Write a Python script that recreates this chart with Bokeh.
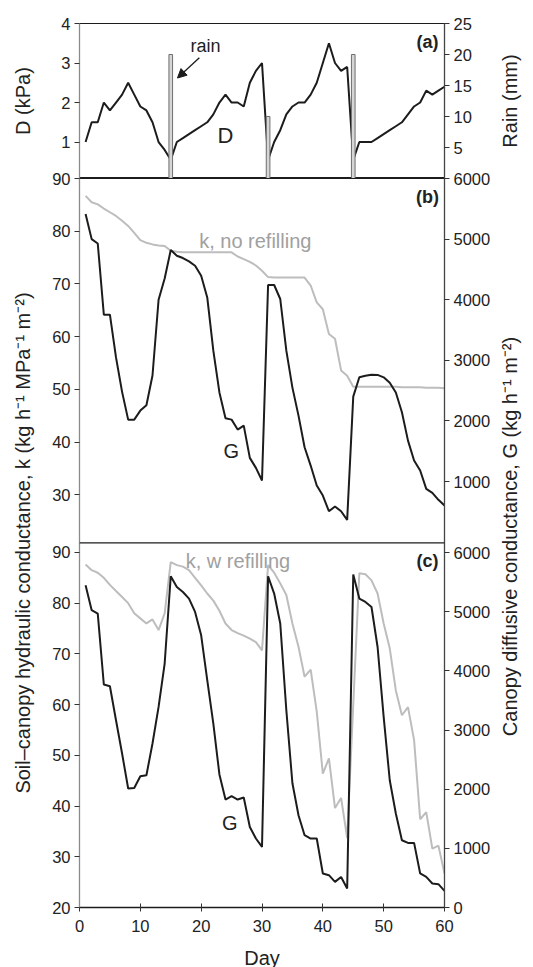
from bokeh.plotting import figure
from bokeh.layouts import column, row
from bokeh.models import Range1d, LinearAxis, FixedTicker, Span, Label, Arrow, NormalHead
from bokeh.embed import file_html
from bokeh.resources import INLINE
import math

# ---------------- data ----------------
days = list(range(1, 61))

D_kPa = [1.0, 1.5, 1.5, 2.0, 1.8, 2.0, 2.2, 2.5, 2.2, 1.9,
         1.8, 1.5, 1.0, 0.8, 0.55, 1.0, 1.1, 1.2, 1.3, 1.4,
         1.5, 1.7, 2.0, 2.2, 2.0, 2.0, 1.9, 2.5, 2.8, 3.0,
         0.55, 1.0, 1.3, 1.7, 1.9, 2.0, 2.0, 2.2, 2.5, 3.0,
         3.5, 3.0, 2.8, 2.9, 0.55, 1.0, 1.0, 1.0, 1.1, 1.2,
         1.3, 1.4, 1.5, 1.7, 1.9, 2.0, 2.3, 2.2, 2.3, 2.4]

rain_day = [15, 31, 45]
rain_mm = [20, 10, 20]

k_no_refill = [86.7, 85.5, 85.1, 84.3, 83.6, 82.9, 82.0, 81.0, 79.7, 78.3,
               77.8, 77.5, 77.3, 77.2, 76.3, 76.1, 76.0, 76.0, 76.0, 76.0,
               76.0, 76.0, 76.0, 76.0, 76.0, 75.2, 74.7, 74.2, 73.5, 72.5,
               71.3, 71.2, 71.2, 71.2, 71.2, 71.2, 71.2, 69.7, 66.5, 65.2,
               60.5, 59.6, 53.6, 52.6, 50.5, 50.5, 50.5, 50.5, 50.5, 50.5,
               50.5, 50.5, 50.4, 50.4, 50.4, 50.4, 50.3, 50.3, 50.3, 50.2]

G_no_refill = [5413, 5000, 4928, 3753, 3753, 3049, 2480, 2022, 2022, 2171,
               2260, 2750, 4000, 4350, 4820, 4726, 4688, 4632, 4561, 4396,
               4038, 3160, 2470, 2044, 2022, 1858, 1924, 1391, 1226, 1017,
               4243, 4243, 4012, 3160, 2550, 2088, 1566, 1264, 935, 770,
               511, 588, 511, 369, 2401, 2720, 2747, 2764, 2760, 2720,
               2630, 2470, 2143, 1676, 1347, 1182, 880, 814, 699, 605]

k_w_refill = [87.6, 86.5, 86.0, 85.0, 83.6, 82.4, 81.2, 80.0, 78.0, 77.0,
              76.0, 76.8, 74.7, 78.0, 88.1, 87.5, 87.2, 86.5, 85.0, 83.5,
              81.9, 80.5, 78.5, 76.0, 74.7, 74.1, 73.6, 73.0, 72.3, 70.7,
              87.5, 86.0, 83.9, 81.6, 76.0, 71.4, 65.5, 66.9, 58.6, 46.4,
              49.4, 39.6, 41.6, 33.7, 60.0, 85.9, 85.7, 84.5, 81.9, 76.0,
              71.1, 62.8, 57.9, 59.5, 53.0, 37.4, 38.8, 31.6, 32.2, 26.7]

G_w_refill = [5447, 5025, 4969, 3769, 3740, 3166, 2603, 2011, 2021, 2219,
              2236, 2772, 3390, 4124, 5600, 5418, 5334, 5222, 4996, 4602,
              3842, 3110, 2250, 1825, 1881, 1825, 1859, 1362, 1166, 1024,
              5600, 5307, 4800, 3334, 2100, 1560, 1222, 1166, 1166, 575,
              546, 433, 517, 321, 5630, 5222, 5165, 5080, 4404, 3221,
              2151, 1589, 1137, 1092, 1092, 575, 517, 405, 394, 281]

x_ticks = [0, 10, 20, 30, 40, 50, 60]
D_ticks = [1, 2, 3, 4]
rain_ticks = [5, 10, 15, 20, 25]
kb_ticks = [30, 40, 50, 60, 70, 80, 90]
Gb_ticks = [1000, 2000, 3000, 4000, 5000, 6000]
kc_ticks = [20, 30, 40, 50, 60, 70, 80, 90]
Gc_ticks = [0, 1000, 2000, 3000, 4000, 5000, 6000]

# ---------------- layout ----------------
FRAME_W = 365
A_TOP, A_H = 23, 155
BC_TOP, BC_H, BC_BOTTOM = 10, 729, 56
TOTAL_H = A_TOP + A_H + BC_H + BC_BOTTOM
PANEL_B = (364.7, 729.0)
PANEL_C = (0.0, 364.7)
BORDER_L, BORDER_R, SIDE_W = 79, 52, 26

D_lim = (0.077, 4.0)
rain_lim = (0.0, 25.0)
kb_lim = (20.9, 90.0)
Gb_lim = (-10.0, 6000.0)
kc_lim = (20.0, 91.9)
Gc_lim = (0.0, 6165.0)

FONT = "Liberation Sans"
BLACK = "#1c1c1c"
GREY_LINE = "#bdbdbd"
GREY_TEXT = "#a0a0a0"
TEXT = "#222222"
TICK_SIZE = "16.5px"
TITLE_SIZE = "20px"


def full_range(lim, panel, h):
    lo, hi = lim
    f0, f1 = panel
    s = (hi - lo) / (f1 - f0)
    return Range1d(lo - f0 * s, hi + (h - f1) * s)


def pos(v, lim, panel):
    lo, hi = lim
    f0, f1 = panel
    return round(f0 + (v - lo) / (hi - lo) * (f1 - f0), 3)


def style_axis(ax, line_color):
    ax.axis_line_color = line_color
    ax.axis_line_width = 1.3
    ax.major_tick_line_color = "#333333"
    ax.major_tick_line_width = 1
    ax.minor_tick_line_color = None
    ax.major_tick_out = 5
    ax.major_tick_in = 0
    ax.major_label_standoff = 4
    ax.major_label_text_font = FONT
    ax.major_label_text_font_size = TICK_SIZE
    ax.major_label_text_color = TEXT
    ax.axis_label_text_font = FONT
    ax.axis_label_text_font_style = "normal"
    ax.axis_label_text_font_size = TITLE_SIZE
    ax.axis_label_text_color = TEXT


def base_fig(frame_h, y_range, top, bottom):
    f = figure(frame_width=FRAME_W, frame_height=frame_h,
               x_range=xr, y_range=y_range,
               output_backend="svg", toolbar_location=None,
               min_border_left=BORDER_L, min_border_right=BORDER_R,
               min_border_top=top, min_border_bottom=bottom)
    f.xgrid.visible = False
    f.ygrid.visible = False
    f.outline_line_color = BLACK
    f.outline_line_width = 1
    return f


def txt(fig, x, y, text, rng=None, size="20px", color=TEXT, style="normal",
        align="center", angle=0.0):
    lab = Label(x=x, y=y, text=text, text_font=FONT, text_font_size=size,
                text_color=color, text_font_style=style, text_align=align,
                text_baseline="middle", angle=angle)
    if rng is not None:
        lab.y_range_name = rng
    fig.add_layout(lab)


xr = Range1d(0, 60)

# ================= panel (a) =================
pa = base_fig(A_H, Range1d(*D_lim), A_TOP, 0)
pa.xaxis.visible = False
pa.extra_y_ranges = {"rain": Range1d(*rain_lim)}

la = pa.yaxis[0]
la.ticker = FixedTicker(ticks=D_ticks)
style_axis(la, "#8a8a8a")
la.axis_label = "D (kPa)"
la.axis_label_standoff = 24

ra = LinearAxis(y_range_name="rain", ticker=FixedTicker(ticks=rain_ticks))
style_axis(ra, "#444444")
pa.add_layout(ra, "right")

pa.line(days, D_kPa, line_color=BLACK, line_width=2)
pa.vbar(x=rain_day, top=rain_mm, bottom=0, width=0.6, y_range_name="rain",
        fill_color="#d6d6d6", line_color="#6e6e6e", line_width=1)

txt(pa, 59.0, 3.53, "(a)", size="18px", style="bold", align="right")
txt(pa, 20.7, 3.44, "rain", size="18px")
pa.add_layout(Arrow(x_start=19.7, y_start=3.135, x_end=16.1, y_end=2.62,
                    line_color=BLACK, line_width=1.3,
                    end=NormalHead(size=9, fill_color=BLACK, line_color=BLACK)))
txt(pa, 24.0, 1.16, "D", size="22px")

# ================= panels (b) and (c) =================
pbc = base_fig(BC_H, Range1d(0, BC_H), BC_TOP, BC_BOTTOM)
pbc.margin = (-BC_TOP, 0, 0, 0)
pbc.border_fill_alpha = 0.0
pbc.extra_y_ranges = {
    "kb": full_range(kb_lim, PANEL_B, BC_H),
    "Gb": full_range(Gb_lim, PANEL_B, BC_H),
    "kc": full_range(kc_lim, PANEL_C, BC_H),
    "Gc": full_range(Gc_lim, PANEL_C, BC_H),
}

left_ticks, left_labels = [], {}
for ticks, lim, panel in [(kb_ticks, kb_lim, PANEL_B), (kc_ticks, kc_lim, PANEL_C)]:
    for v in ticks:
        t = pos(v, lim, panel)
        left_ticks.append(t)
        left_labels[t] = str(v)

right_ticks, right_labels = [], {}
for ticks, lim, panel in [(Gb_ticks, Gb_lim, PANEL_B), (Gc_ticks, Gc_lim, PANEL_C)]:
    for v in ticks:
        t = pos(v, lim, panel)
        right_ticks.append(t)
        right_labels[t] = str(v)

lb = pbc.yaxis[0]
lb.ticker = FixedTicker(ticks=left_ticks)
lb.major_label_overrides = left_labels
style_axis(lb, "#8a8a8a")
lb.axis_label = "Soil\u2013canopy hydraulic conductance, k (kg h\u207b\u00b9 MPa\u207b\u00b9 m\u207b\u00b2)"
lb.axis_label_standoff = 15

rb = LinearAxis(ticker=FixedTicker(ticks=right_ticks), major_label_overrides=right_labels)
style_axis(rb, "#444444")
pbc.add_layout(rb, "right")

bx = pbc.xaxis[0]
bx.ticker = FixedTicker(ticks=x_ticks)
style_axis(bx, BLACK)
bx.major_tick_out = 4
bx.major_tick_in = 4
bx.major_label_standoff = 8
bx.axis_label = "Day"
bx.axis_label_standoff = 12

pbc.add_layout(Span(location=PANEL_B[0], dimension="width", line_color=BLACK, line_width=1.2))

pbc.line(days, k_no_refill, y_range_name="kb", line_color=GREY_LINE, line_width=2)
pbc.line(days, G_no_refill, y_range_name="Gb", line_color=BLACK, line_width=2)
pbc.line(days, k_w_refill, y_range_name="kc", line_color=GREY_LINE, line_width=2)
pbc.line(days, G_w_refill, y_range_name="Gc", line_color=BLACK, line_width=2)

txt(pbc, 59.1, 86.4, "(b)", "kb", size="18px", style="bold", align="right")
txt(pbc, 59.0, 88.3, "(c)", "kc", size="18px", style="bold", align="right")
txt(pbc, 28.9, 78.2, "k, no refilling", "kb", color=GREY_TEXT)
txt(pbc, 24.95, 38.3, "G", "kb")
txt(pbc, 26.05, 88.3, "k, w refilling", "kc", color=GREY_TEXT)
txt(pbc, 24.7, 36.7, "G", "kc")

# ================= right-hand axis titles (read bottom to top) =================
side = figure(frame_width=SIDE_W, frame_height=TOTAL_H,
              x_range=Range1d(0, 1), y_range=Range1d(TOTAL_H, 0),
              x_axis_location=None, y_axis_location=None,
              output_backend="svg", toolbar_location=None, min_border=0)
side.outline_line_color = None
side.xgrid.visible = False
side.ygrid.visible = False
txt(side, 0.5, A_TOP + A_H / 2, "Rain (mm)", size=TITLE_SIZE, angle=math.pi / 2)
txt(side, 0.5, 536, "Canopy diffusive conductance, G (kg h\u207b\u00b9 m\u207b\u00b2)",
    size=TITLE_SIZE, angle=math.pi / 2)

layout = row(column(pa, pbc, spacing=0), side, spacing=0)
open("out.html", "w").write(file_html(layout, INLINE))
